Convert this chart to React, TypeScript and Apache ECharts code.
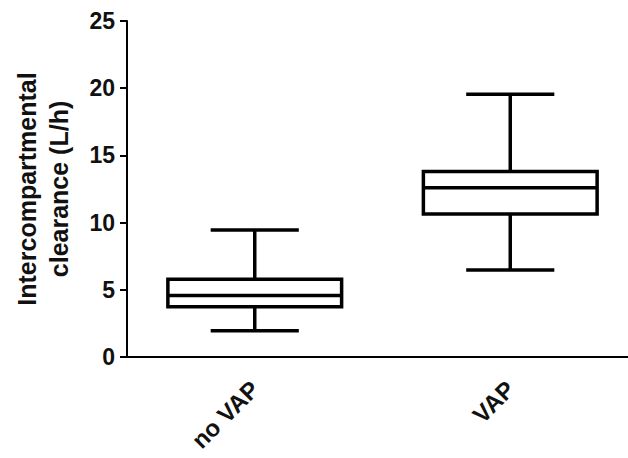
import React, { useEffect, useRef } from "react";
import * as echarts from "echarts";

const categories = ["no VAP", "VAP"];
// [min, Q1, median, Q3, max]
const boxStats = [
  [1.95, 3.74, 4.58, 5.78, 9.45],
  [6.47, 10.64, 12.6, 13.8, 19.55],
];
const yTicks = [0, 5, 10, 15, 20, 25];
const yAxisTitle = "Intercompartmental\nclearance (L/h)";

const FONT = "Liberation Sans";

export default function App() {
  const ref = useRef<HTMLDivElement>(null);
  useEffect(() => {
    if (!ref.current) return;
    const chart = echarts.init(ref.current, undefined, { renderer: "svg" });
    const data = boxStats.map((s, i) => [i, ...s]);
    chart.setOption({
      animation: false,
      backgroundColor: "#ffffff",
      grid: { left: 127, top: 21, bottom: 101, right: 0, containLabel: false },
      xAxis: {
        type: "category",
        data: categories,
        boundaryGap: true,
        axisLine: { lineStyle: { color: "#000", width: 2 } },
        axisTick: { alignWithLabel: true, length: 10, lineStyle: { color: "#000", width: 2 } },
        axisLabel: {
          rotate: 45,
          margin: 28,
          color: "#111",
          fontFamily: FONT,
          fontWeight: "bold",
          fontSize: 24,
        },
        splitLine: { show: false },
      },
      yAxis: {
        type: "value",
        min: yTicks[0],
        max: yTicks[yTicks.length - 1],
        interval: 5,
        name: yAxisTitle,
        nameLocation: "middle",
        nameRotate: 90,
        nameGap: 52,
        nameTextStyle: {
          color: "#111",
          fontFamily: FONT,
          fontWeight: "bold",
          fontSize: 25,
          lineHeight: 32,
        },
        axisLine: { show: true, lineStyle: { color: "#000", width: 2 } },
        axisTick: { show: true, length: 7, lineStyle: { color: "#000", width: 2 } },
        axisLabel: {
          margin: 12,
          color: "#111",
          fontFamily: FONT,
          fontWeight: "bold",
          fontSize: 23,
        },
        splitLine: { show: false },
      },
      series: [
        {
          type: "custom",
          data,
          encode: { x: 0, y: [1, 2, 3, 4, 5] },
          renderItem: (params: any, api: any) => {
            const x = api.value(0);
            const lo = api.coord([x, api.value(1)]);
            const q1 = api.coord([x, api.value(2)]);
            const med = api.coord([x, api.value(3)]);
            const q3 = api.coord([x, api.value(4)]);
            const hi = api.coord([x, api.value(5)]);
            const band = api.size([1, 0])[0];
            const bw = band * 0.68;
            const cw = band * 0.345;
            const cx = lo[0];
            const style = { stroke: "#000", lineWidth: 3.5, fill: null };
            return {
              type: "group",
              children: [
                { type: "line", shape: { x1: cx, y1: lo[1], x2: cx, y2: q1[1] }, style },
                { type: "line", shape: { x1: cx, y1: q3[1], x2: cx, y2: hi[1] }, style },
                { type: "line", shape: { x1: cx - cw / 2, y1: lo[1], x2: cx + cw / 2, y2: lo[1] }, style },
                { type: "line", shape: { x1: cx - cw / 2, y1: hi[1], x2: cx + cw / 2, y2: hi[1] }, style },
                {
                  type: "rect",
                  shape: { x: cx - bw / 2, y: q3[1], width: bw, height: q1[1] - q3[1] },
                  style: { stroke: "#000", lineWidth: 3.5, fill: "#fff" },
                },
                { type: "line", shape: { x1: cx - bw / 2, y1: med[1], x2: cx + bw / 2, y2: med[1] }, style },
              ],
            };
          },
        },
      ],
    });
    return () => chart.dispose();
  }, []);
  return (
    <div
      ref={ref}
      style={{ position: "fixed", left: 0, top: 0, width: 638, height: 458, background: "#fff" }}
    />
  );
}
